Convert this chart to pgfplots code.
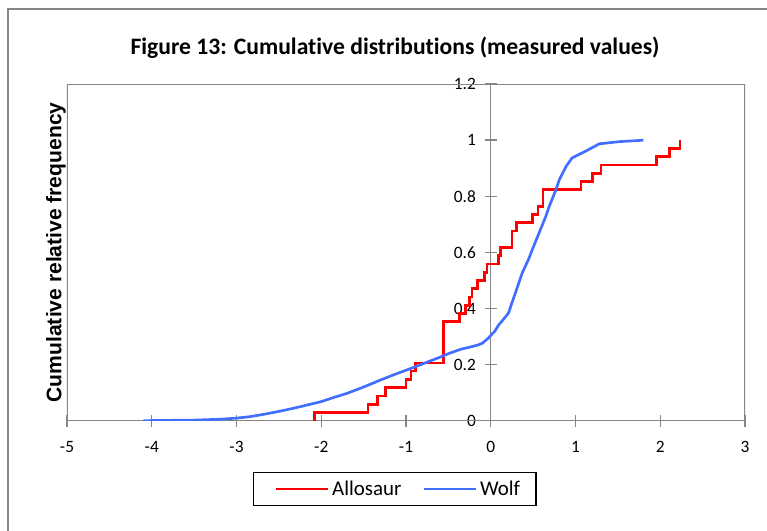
\documentclass[border=0pt]{standalone}
\usepackage{fontspec}
\setmainfont{Carlito}[Ligatures=NoCommon]
\newfontfamily\arialfont{Liberation Sans}
\usepackage{pgfplots}
\pgfplotsset{compat=1.18}
\definecolor{axisgray}{RGB}{134,134,134}
\definecolor{wolfblue}{RGB}{66,110,255}

\begin{document}
\begin{tikzpicture}
\begin{axis}[
  at={(0,0)}, anchor=south west,
  scale only axis,
  width=508.5pt, height=252.4pt,
  xmin=-5, xmax=3, ymin=0, ymax=1.2,
  axis lines=middle,
  axis line style={-, draw=axisgray, line width=1.1pt},
  xtick={-5,-4,-3,-2,-1,0,1,2,3},
  ytick={0,0.2,0.4,0.6,0.8,1,1.2},
  xticklabels={-5,-4,-3,-2,-1,0,1,2,3},
  yticklabels={0,0.2,0.4,0.6,0.8,1,1.2},
  hide obscured x ticks=false, hide obscured y ticks=false,
  tick align=center, major tick length=9pt,
  tick style={draw=axisgray, line width=1.1pt},
  tick label style={font=\fontsize{13}{15}\selectfont},
  xticklabel style={anchor=north, inner sep=0pt, yshift=-10.7pt},
  yticklabel style={anchor=east, inner sep=0pt, xshift=-6.5pt},
  title={Figure 13: Cumulative distributions (measured values)},
  title style={font=\fontsize{17.7}{20}\selectfont\bfseries,
    at={(axis description cs:0.4838,1.084)}, anchor=center},
  ylabel={Cumulative relative frequency},
  ylabel style={font=\arialfont\bfseries\fontsize{15.8}{18}\selectfont,
    at={(axis description cs:-0.0162,0.5)}, rotate=90, anchor=center},
  legend columns=2,
  legend image code/.code={\path (0pt,0pt); \draw[#1] (6pt,0pt) -- (45pt,0pt);},
  legend style={at={(axis description cs:0.4835,-0.203)}, anchor=center,
    draw=black, line width=1.1pt, font=\fontsize{15.7}{18}\selectfont,
    inner xsep=10pt, inner ysep=4pt,
    nodes={inner xsep=2pt, inner ysep=2pt},
    /tikz/every even column/.append style={column sep=8pt}},
]
\draw[axisgray, line width=1.1pt] (rel axis cs:0,0) rectangle (rel axis cs:1,1);

% Allosaur: empirical CDF, 34 values
\addplot[red, line width=2pt, const plot] coordinates {
  (-2.08,0) (-2.08,0.0294) (-1.45,0.0588) (-1.34,0.0882) (-1.245,0.1176)
  (-1.00,0.1471) (-0.94,0.1765) (-0.89,0.2059) (-0.555,0.3529)
  (-0.365,0.3824) (-0.30,0.4118) (-0.25,0.4412) (-0.222,0.4706)
  (-0.16,0.5) (-0.075,0.5294) (-0.045,0.5588) (0.095,0.5882)
  (0.115,0.6176) (0.25,0.6765) (0.30,0.7059) (0.496,0.7353)
  (0.556,0.7647) (0.615,0.8235) (1.064,0.8529) (1.20,0.8824)
  (1.30,0.9118) (1.957,0.9412) (2.107,0.9706) (2.234,1.0)
};
\addlegendentry{Allosaur}

% Wolf: empirical CDF
\addplot[wolfblue, line width=2pt] coordinates {
  (-4.10,0.000) (-3.80,0.001) (-3.50,0.002) (-3.20,0.005) (-3.00,0.009)
  (-2.85,0.014) (-2.69,0.022) (-2.50,0.033) (-2.33,0.044) (-2.15,0.057)
  (-2.00,0.068) (-1.85,0.083) (-1.69,0.098) (-1.50,0.120) (-1.30,0.145)
  (-1.15,0.163) (-0.98,0.182) (-0.85,0.197) (-0.74,0.210) (-0.60,0.226)
  (-0.50,0.239) (-0.35,0.255) (-0.25,0.262) (-0.15,0.270) (-0.10,0.276)
  (-0.03,0.294) (0.05,0.320) (0.09,0.340) (0.13,0.354) (0.21,0.384)
  (0.25,0.420) (0.33,0.490) (0.37,0.526) (0.45,0.578) (0.49,0.610)
  (0.57,0.669) (0.65,0.729) (0.69,0.764) (0.77,0.824) (0.81,0.860)
  (0.89,0.907) (0.96,0.937) (1.12,0.961) (1.28,0.987) (1.52,0.995)
  (1.80,1.000)
};
\addlegendentry{Wolf}
\end{axis}
\draw[axisgray, line width=1.1pt] (-44.25pt,-150pt) rectangle (600pt,308.8pt);
\pgfresetboundingbox
\path[use as bounding box] (-50.25pt,-82.7pt) rectangle (525pt,315.5pt);
\end{tikzpicture}
\end{document}
